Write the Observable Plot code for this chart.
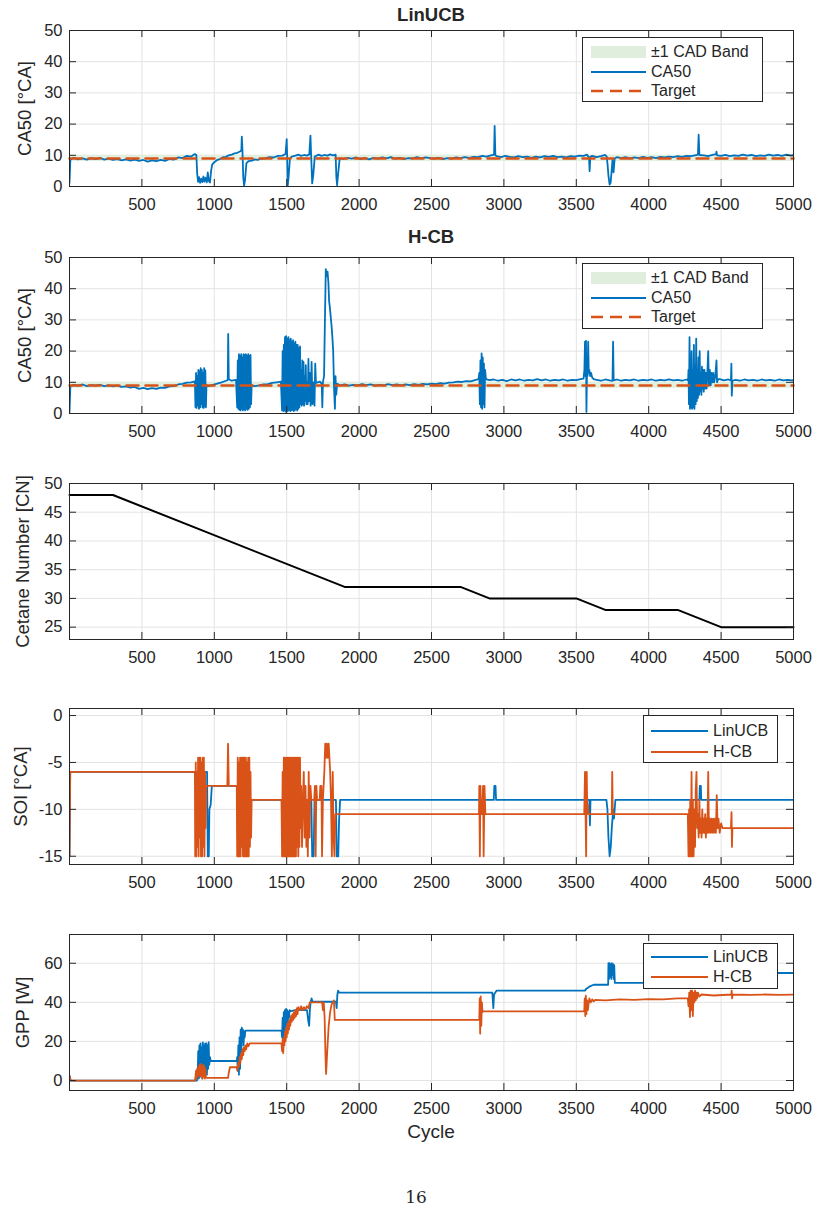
<!DOCTYPE html>
<html>
<head>
<meta charset="utf-8">
<script src="https://cdn.jsdelivr.net/npm/d3@7"></script>
<script src="https://cdn.jsdelivr.net/npm/@observablehq/plot@0.6"></script>
<style>
  body { margin: 0; background: #fff; }
  #page { position: relative; width: 821px; height: 1210px; overflow: hidden;
          font-family: "Liberation Sans", Arial, Helvetica, sans-serif; color: #262626; }
  .txt { position: absolute; white-space: nowrap; transform: translate(-50%, -50%); }
  .title { font-weight: bold; font-size: 18.5px; }
  .legend { position: absolute; border: 1px solid #262626; background: #fff; box-sizing: border-box; }
  .legend span { position: absolute; font-size: 16px; white-space: nowrap; transform: translateY(-50%); }
  .legend svg { position: absolute; overflow: visible; }
</style>
</head>
<body>
<div id="page"></div>
<script>
// ---- axis ticks -------------------------------------------------------
const cycleTicks = [500, 1000, 1500, 2000, 2500, 3000, 3500, 4000, 4500, 5000];
const ca50Ticks = [0, 10, 20, 30, 40, 50];
const cetaneTicks = [25, 30, 35, 40, 45, 50];
const soiTicks = [-15, -10, -5, 0];
const gppTicks = [0, 20, 40, 60];

// ---- combustion phasing target (°CA) and tolerance band ---------------
const ca50Target = 9;
const cadBand = 1;
const targetLine = [[0, ca50Target], [5000, ca50Target]];

// ---- CA50 [°CA], LinUCB controller: [cycle, value] --------------------
const ca50LinUCB = [
[0,1.2],[6,8.6],[30,9.2],[60,8.7],[90,9.0],[120,8.6],[150,9.1],[180,8.8],[210,9.2],[240,8.6],[270,8.9],[300,8.5],[330,8.8],[360,8.4],[390,8.7],[420,8.3],[450,8.6],[480,8.2],[510,8.5],[540,8.0],[570,8.4],[600,8.1],[630,8.5],[660,8.2],[690,8.8],[720,8.6],[750,9.3],[780,9.1],[810,9.8],[840,9.6],[865,10.4],[876,10.1],
[882,4.0],[888,1.5],[895,3.0],[902,1.2],[910,2.5],[918,1.4],[925,3.2],[932,1.6],[940,2.8],[948,1.3],[955,4.5],[962,1.8],[970,1.3],[978,5.0],[985,7.0],[1000,7.8],[1020,8.5],[1040,8.8],[1060,9.4],[1080,9.5],[1100,10.0],[1120,10.2],[1140,10.6],[1160,10.8],[1180,11.3],[1187,11.6],[1190,16.0],[1194,12.0],[1200,3.0],[1206,0.3],[1212,2.0],[1222,7.5],[1236,8.1],[1260,8.3],[1280,8.7],[1300,8.5],[1320,8.9],[1350,9.0],[1380,9.4],[1410,9.3],[1440,9.8],[1470,9.9],[1492,10.4],[1500,15.2],[1503,10.0],[1507,0.3],[1513,3.0],[1522,8.8],[1535,9.6],[1560,9.9],[1580,10.2],[1600,9.8],[1620,10.1],[1640,9.9],[1656,10.3],[1664,16.3],[1668,11.0],[1676,1.0],[1684,4.0],[1694,9.6],[1720,10.2],[1740,9.8],[1760,10.1],[1780,9.9],[1800,10.3],[1820,10.0],[1838,10.2],[1843,3.0],[1848,0.4],[1855,4.0],[1866,9.0],
[1890,8.8],[1920,9.2],[1950,8.9],[1980,9.3],[2010,8.8],[2040,9.1],[2070,8.7],[2100,9.2],[2130,8.9],[2160,9.3],[2190,9.0],[2220,9.4],[2250,8.9],[2280,9.2],[2310,8.8],[2340,9.1],[2370,9.0],[2400,9.4],[2430,9.0],[2460,9.3],[2490,9.1],[2520,8.9],[2550,9.2],[2580,8.8],[2610,9.1],[2640,8.9],[2670,9.3],[2700,9.1],[2730,9.4],[2760,9.2],[2790,9.5],[2820,9.4],[2850,9.8],[2880,9.6],[2910,10.0],[2932,10.2],[2936,19.4],[2941,10.0],[2950,9.7],
[2980,9.4],[3010,9.8],[3040,9.5],[3070,9.3],[3100,9.7],[3130,9.4],[3160,9.6],[3190,9.2],[3220,9.6],[3250,9.3],[3280,9.7],[3310,9.5],[3340,9.8],[3370,9.4],[3400,9.6],[3430,9.3],[3460,9.7],[3490,9.6],[3520,9.9],[3550,9.8],[3575,10.2],[3588,9.2],[3592,4.9],[3597,9.5],[3610,9.8],[3640,9.4],[3670,9.7],[3700,10.1],[3710,9.6],[3716,7.0],[3722,3.5],[3730,0.6],[3737,1.2],[3744,5.0],[3750,8.5],[3757,4.5],[3765,9.0],[3780,9.4],
[3810,9.1],[3840,9.4],[3870,9.0],[3900,9.3],[3930,9.1],[3960,9.5],[3990,9.2],[4020,9.4],[4050,9.1],[4080,9.5],[4110,9.3],[4140,9.6],[4170,9.4],[4200,9.7],[4230,9.5],[4260,9.8],[4290,9.7],[4320,10.0],[4340,10.2],[4345,16.6],[4350,10.1],[4380,10.0],[4410,9.7],[4440,10.1],[4465,10.4],[4468,11.2],[4472,10.0],[4500,9.8],[4530,10.1],[4560,9.7],[4590,10.0],[4620,9.8],[4650,10.2],[4680,9.9],[4710,10.1],[4740,9.7],[4770,10.0],[4800,9.8],[4830,10.2],[4860,9.9],[4890,10.1],[4920,9.8],[4950,10.2],[4980,9.9],[5000,10.0]
];

// ---- CA50 [°CA], H-CB controller: [cycle, value] ----------------------
const ca50HCB = [
[0,0.4],[6,8.8],[30,9.2],[60,8.9],[90,9.3],[120,8.8],[150,9.1],[180,8.9],[210,9.2],[240,8.8],[270,9.0],[300,8.7],[330,8.9],[360,8.5],[390,8.7],[420,8.3],[450,8.5],[480,7.9],[510,8.2],[540,7.8],[570,8.1],[600,7.9],[630,8.3],[660,8.2],[690,8.7],[720,8.8],[750,9.3],[780,9.5],[810,9.9],[840,10.0],[866,10.3],
[870,2.0],[874,13.0],[878,1.8],[882,12.0],[886,2.5],[890,14.0],[894,1.5],[898,13.5],[902,2.0],[906,14.5],[910,3.0],[914,14.0],[918,2.0],[922,13.0],[926,1.8],[930,14.5],[934,2.2],[938,13.8],[942,2.0],[946,9.0],[960,8.8],[990,9.2],[1020,9.6],[1050,10.0],[1080,10.5],[1093,10.7],[1096,25.5],[1100,11.0],[1120,10.5],[1150,10.8],
[1158,2.0],[1162,17.0],[1166,1.5],[1170,19.0],[1174,1.2],[1178,18.5],[1182,1.0],[1186,19.0],[1190,1.5],[1194,18.0],[1198,1.0],[1202,19.0],[1206,1.3],[1210,18.8],[1214,1.0],[1218,19.0],[1222,1.5],[1226,18.5],[1230,1.2],[1234,19.0],[1238,1.5],[1242,18.5],[1246,2.0],[1250,18.8],[1254,3.0],[1258,9.0],[1280,8.8],[1310,9.0],[1340,9.3],[1370,9.4],[1400,9.8],[1430,10.0],[1460,10.2],
[1468,1.0],[1472,20.0],[1476,0.8],[1480,22.0],[1484,1.0],[1488,24.5],[1492,0.6],[1496,24.8],[1500,1.0],[1504,24.0],[1508,0.8],[1512,24.5],[1516,1.2],[1520,23.5],[1524,0.8],[1528,24.0],[1532,1.0],[1536,23.0],[1540,1.2],[1544,23.5],[1548,0.8],[1552,22.5],[1556,1.0],[1560,23.0],[1564,1.5],[1568,22.0],[1572,1.0],[1576,22.0],[1580,1.5],[1584,21.0],[1588,2.0],[1592,21.5],[1596,3.0],[1600,14.0],[1604,2.5],[1608,17.0],[1612,3.0],[1616,16.5],[1620,2.5],[1624,12.0],[1628,4.0],[1632,15.5],[1636,3.0],[1640,10.0],[1645,3.0],[1650,17.5],[1655,4.0],[1660,13.0],[1665,2.5],[1672,16.5],[1678,3.0],[1685,10.0],[1692,2.5],[1697,16.0],[1702,9.8],[1730,10.2],[1742,9.5],[1746,2.0],[1750,10.0],[1758,12.0],[1764,30.0],[1770,46.3],[1776,44.0],[1782,45.5],[1788,42.0],[1793,36.0],[1798,34.0],[1804,31.0],[1810,28.0],[1816,24.0],[1821,20.0],[1827,8.0],[1833,1.5],[1837,12.0],[1842,6.0],[1848,9.5],
[1870,9.0],[1900,9.3],[1930,8.9],[1960,9.2],[1990,9.0],[2020,9.4],[2050,9.1],[2080,9.3],[2110,8.9],[2140,9.2],[2170,9.0],[2200,9.4],[2230,9.1],[2260,9.3],[2290,9.0],[2320,9.3],[2350,9.1],[2380,9.4],[2410,9.2],[2440,9.5],[2470,9.3],[2500,9.6],[2530,9.4],[2560,9.7],[2590,9.6],[2620,9.9],[2650,10.0],[2680,10.2],[2710,10.1],[2740,10.4],[2770,10.3],[2800,10.7],[2825,11.0],
[2830,13.0],[2834,3.0],[2838,17.0],[2842,2.0],[2846,19.3],[2850,1.5],[2854,18.0],[2858,3.0],[2862,16.0],[2866,2.0],[2870,14.0],[2876,11.0],[2900,10.7],[2930,10.9],[2960,10.5],[2990,10.8],[3020,10.4],[3050,10.9],[3080,10.6],[3110,10.9],[3140,10.5],[3170,10.8],[3200,10.6],[3230,11.0],[3260,10.6],[3290,10.9],[3320,10.5],[3350,10.8],[3380,10.6],[3410,10.9],[3440,10.5],[3470,10.8],[3500,10.7],[3530,11.0],[3550,11.2],
[3556,14.0],[3560,23.0],[3563,12.0],[3567,23.3],[3570,0.5],[3574,14.0],[3578,12.0],[3582,23.0],[3586,13.0],[3590,14.0],[3596,12.0],[3602,13.0],[3610,11.5],[3620,11.0],[3640,10.8],[3670,10.5],[3700,10.9],[3730,10.6],[3750,10.5],[3754,23.0],[3758,10.6],[3780,10.9],[3810,10.5],[3840,10.8],[3870,10.6],[3900,10.9],[3930,10.5],[3960,10.8],[3990,10.6],[4020,10.9],[4050,10.5],[4080,10.8],[4110,10.6],[4140,10.9],[4170,10.6],[4200,10.8],[4230,10.5],[4260,10.9],[4272,10.6],
[4275,14.0],[4278,3.0],[4282,24.5],[4285,1.5],[4289,16.0],[4292,2.0],[4296,20.0],[4300,1.5],[4304,14.0],[4308,2.0],[4312,22.0],[4316,1.5],[4320,15.0],[4324,3.0],[4328,24.0],[4332,4.0],[4336,14.0],[4340,5.0],[4344,18.0],[4348,6.0],[4352,20.0],[4356,7.0],[4360,13.0],[4364,6.0],[4368,15.0],[4372,8.0],[4376,14.0],[4380,7.0],[4385,14.0],[4390,8.0],[4395,13.0],[4400,8.0],[4406,14.0],[4411,20.0],[4416,9.0],[4422,14.0],[4428,9.0],[4434,13.0],[4440,10.0],[4446,13.0],[4452,10.0],[4460,12.0],[4468,17.0],[4472,10.0],[4480,11.0],
[4490,11.0],[4520,10.6],[4550,10.9],[4568,10.6],[4571,16.0],[4574,5.7],[4578,10.5],[4600,10.8],[4630,10.5],[4660,10.9],[4690,10.6],[4720,10.8],[4750,10.5],[4780,10.9],[4810,10.6],[4840,10.8],[4870,10.5],[4900,10.9],[4930,10.6],[4960,10.8],[4990,10.6],[5000,10.7]
];

// ---- fuel cetane number schedule [cycle, CN] -------------------------
const cetane = [[0,48],[300,48],[1900,32],[2700,32],[2900,30],[3500,30],[3700,28],[4200,28],[4500,25],[5000,25]];

// ---- start of injection [°CA] ----------------------------------------
const soiLinUCB = [
[0,-15],[5,-6],[950,-6],[955,-15],[962,-15],[966,-10],[975,-9.5],[983,-7.5],[1200,-7.5],[1205,-9],[1670,-9],[1676,-15],[1686,-15],[1692,-9],[1840,-9],[1846,-15],[1856,-15],[1862,-11],[1869,-9],[2930,-9],[2934,-7.5],[2942,-7.5],[2946,-9],[3590,-9],[3594,-11.7],[3598,-9],[3708,-9],[3715,-10],[3722,-13],[3730,-15],[3738,-14],[3745,-12],[3755,-10],[3760,-11],[3770,-9],[4350,-9],[4353,-7.5],[4360,-7.5],[4363,-9],[5000,-9]
];
const soiHCB = [
[0,-15],[5,-6],[866,-6],
[868,-15],[872,-5],[876,-15],[880,-6],[884,-14],[888,-4.5],[892,-15],[896,-4.5],[900,-13],[904,-4.5],[908,-15],[912,-5],[916,-15],[920,-4.5],[924,-14],[928,-4.5],[932,-15],[936,-6],[940,-12],[944,-7.5],[1090,-7.5],[1095,-3],[1100,-7.5],[1155,-7.5],
[1158,-15],[1162,-4.5],[1166,-15],[1170,-5],[1174,-15],[1178,-4.5],[1182,-15],[1186,-4.5],[1190,-14],[1194,-4.5],[1198,-15],[1202,-4.5],[1206,-15],[1210,-4.5],[1214,-15],[1218,-4.5],[1222,-15],[1226,-5],[1230,-15],[1234,-4.5],[1238,-15],[1242,-4.5],[1246,-14],[1250,-6],[1254,-13],[1258,-9],[1464,-9],
[1468,-15],[1472,-6],[1476,-15],[1480,-4.5],[1484,-15],[1488,-4.5],[1492,-15],[1496,-4.5],[1500,-15],[1504,-4.5],[1508,-15],[1512,-4.5],[1516,-15],[1520,-4.5],[1524,-15],[1528,-4.5],[1532,-15],[1536,-4.5],[1540,-15],[1544,-4.5],[1548,-15],[1552,-4.5],[1556,-15],[1560,-4.5],[1564,-15],[1568,-4.5],[1572,-14],[1576,-4.5],[1580,-15],[1584,-4.5],[1588,-14],[1592,-4.5],[1596,-12],[1600,-7.5],[1606,-14],[1612,-9],[1618,-6],[1624,-13],[1630,-7.5],[1636,-14],[1640,-9],
[1646,-15],[1652,-6],[1658,-13],[1664,-7.5],[1670,-9],[1690,-9],[1695,-7.5],[1700,-15],[1705,-7.5],[1710,-9],[1728,-9],[1732,-7.5],[1740,-7.5],[1744,-15],[1750,-9],[1760,-6],[1766,-3],[1772,-4.5],[1778,-3],[1784,-4.5],[1790,-3],[1795,-4.5],[1800,-6],[1806,-9],[1812,-15],[1818,-6],[1824,-13],[1830,-15],[1836,-10.5],
[2828,-10.5],[2830,-7.5],[2834,-15],[2838,-7.5],[2842,-10.5],[2850,-10.5],[2856,-7.5],[2860,-15],[2866,-7.5],[2872,-10.5],
[3555,-10.5],[3560,-6],[3564,-10.5],[3568,-15],[3572,-6],[3576,-10.5],[3580,-9.5],[3585,-10.5],[3745,-10.5],[3748,-6],[3752,-10.5],
[4270,-10.5],[4275,-15],[4279,-10],[4283,-15],[4287,-9],[4291,-15],[4296,-6],[4300,-15],[4305,-9],[4310,-15],[4315,-10],[4320,-14],[4325,-8],[4330,-6],[4335,-12],[4340,-10.5],[4345,-13],[4350,-9],[4355,-12.5],[4360,-11],[4365,-13],[4370,-10],[4375,-12.5],[4380,-11],[4385,-12.5],[4390,-10.5],[4395,-13],[4400,-11],[4405,-12.5],[4411,-6],[4416,-12.5],[4422,-11],[4428,-12.5],[4434,-11],[4440,-12.5],[4446,-11],[4452,-12.5],[4458,-11],[4464,-12.5],[4470,-8.5],[4476,-12],[4482,-11],[4490,-12.5],[4500,-11.5],[4510,-12],
[4568,-12],[4572,-10.3],[4575,-14],[4578,-12],[5000,-12]
];

// ---- gross power output [W] ------------------------------------------
const gppLinUCB = [
[0,2.5],[8,0],[880,0],
[885,3],[889,15],[893,1],[897,18],[901,2],[905,19],[909,3],[913,17],[917,1],[921,19.5],[925,4],[929,18],[933,2],[937,19],[941,5],[945,19],[949,3],[953,18],[957,6],[961,19.6],[965,8],[970,12],[975,10],[1155,10],
[1158,12],[1162,5],[1166,18],[1170,3],[1174,22],[1178,6],[1182,26],[1186,12],[1190,27],[1194,20],[1198,26],[1202,18],[1206,25],[1210,22],[1214,25.5],[1464,25.5],
[1468,22],[1472,32],[1476,20],[1480,35],[1484,22],[1488,36],[1492,25],[1496,36.6],[1500,28],[1504,36],[1508,30],[1512,35],[1516,32],[1520,36],[1530,35.5],[1560,36],[1600,36],[1640,36],[1645,33],[1650,30],[1655,28],[1660,36],[1665,40],[1672,42],[1678,40.3],[1840,40.3],
[1845,37],[1850,44],[1855,46],[1862,45],[2920,45],[2927,37],[2932,44],[2950,46],[3560,46],[3570,47],[3590,48],[3620,49],[3720,49],
[3722,60],[3726,52],[3730,60],[3734,53],[3738,59.5],[3742,52],[3746,60],[3750,54],[3754,59.5],[3758,52],[3762,59],[3766,50],[4550,50],[4556,55],[5000,55]
];
const gppHCB = [
[0,2.5],[8,0],[866,0],
[870,2],[874,5],[878,1],[882,6],[886,2],[890,7],[894,3],[898,8],[902,2],[906,8.5],[910,3],[914,7],[918,1],[922,8],[926,2],[930,7.5],[934,1],[938,6],[942,1.5],[948,1.4],[1095,1.4],[1100,4],[1108,6.8],[1155,6.8],
[1160,5],[1165,9],[1170,7],[1175,12],[1180,9],[1185,14],[1190,11],[1195,16],[1200,13],[1205,17],[1210,15],[1215,18],[1220,16],[1228,19],[1235,17.5],[1245,19],[1464,19],
[1468,15],[1472,21],[1476,14],[1480,22],[1484,18],[1488,25],[1492,20],[1496,27],[1500,22],[1504,29],[1508,24],[1512,30],[1516,26],[1520,31],[1525,28],[1530,33],[1535,30],[1540,34],[1545,31],[1550,35],[1555,32],[1560,36],[1565,33],[1570,37],[1575,34],[1580,37.5],[1590,36],[1600,38],[1610,36],[1620,37.5],[1630,36.5],[1640,38],[1650,37],[1660,40],[1700,40],[1745,40],[1750,36],[1756,40],[1762,32],[1768,12],[1772,3.4],[1780,15],[1790,28],[1800,35],[1810,39],[1820,40],[1826,41],[1832,31],
[2830,31],[2833,42],[2836,24],[2840,43],[2844,28],[2848,40],[2852,35],[2860,35.4],[3555,35.4],[3558,42],[3562,33],[3566,43.4],[3570,34],[3575,41],[3580,36],[3590,42],[3600,40],[3610,41.5],[3620,40.5],[3630,41.3],[3700,41],[3800,41.5],[3900,41.3],[4000,41.6],[4100,41.5],[4200,42],[4270,42],
[4275,38],[4280,45],[4285,32.5],[4290,46],[4295,36],[4300,46],[4305,33],[4310,45],[4315,40],[4320,46],[4325,41],[4330,45],[4335,42],[4340,45],[4350,43],[4365,44],[4450,43.5],[4570,44],[4573,46],[4576,42],[4580,44],[4700,43.8],[4800,44],[4900,43.8],[5000,44]
];

// ---- layout and styling ------------------------------------------------
const BLUE = "#0072BD", ORANGE = "#D95319", INK = "#262626", GRID = "#e3e3e3", BAND = "#dfeedd";
const W = 821, ML = 69, MR = 28, MT = 20, MB = 40, PH = 156, PW = W - ML - MR;
const FONT = '"Liberation Sans", Arial, Helvetica, sans-serif';
const page = document.getElementById("page");
const fmt = d => String(d);
const X = d => d[0], Y = d => d[1];

function panel(top, yDomain, yTicks, ylabel, labelX, dataMarks) {
  const svg = Plot.plot({
    width: W, height: PH + MT + MB,
    marginLeft: ML, marginRight: MR, marginTop: MT, marginBottom: MB,
    style: {fontFamily: FONT, fontSize: "16.5px", color: INK, background: "transparent", overflow: "visible"},
    x: {domain: [0, 5000]},
    y: {domain: yDomain},
    marks: [
      Plot.gridX(cycleTicks, {stroke: GRID, strokeOpacity: 1}),
      Plot.gridY(yTicks, {stroke: GRID, strokeOpacity: 1}),
      ...dataMarks,
      Plot.tickX(cycleTicks, {x: d => d, insetTop: PH - 7, stroke: INK}),
      Plot.tickX(cycleTicks, {x: d => d, insetBottom: PH - 7, stroke: INK}),
      Plot.tickY(yTicks, {y: d => d, insetRight: PW - 7, stroke: INK}),
      Plot.tickY(yTicks, {y: d => d, insetLeft: PW - 7, stroke: INK}),
      Plot.axisX(cycleTicks, {tickSize: 0, tickPadding: 12, tickFormat: fmt, label: null}),
      Plot.axisY(yTicks, {tickSize: 0, tickPadding: 7, tickFormat: fmt, label: null}),
      Plot.frame({stroke: INK, strokeWidth: 1}),
      Plot.text([ylabel], {text: d => d, frameAnchor: "left", dx: labelX - ML, rotate: -90,
                           textAnchor: "middle", lineAnchor: "middle", fontSize: 18.5, fill: INK})
    ]
  });
  const holder = document.createElement("div");
  holder.style.cssText = `position:absolute;left:0;top:${top - MT}px;`;
  holder.appendChild(svg);
  page.appendChild(holder);
}

function label(text, cls, x, y, extra = "") {
  const el = document.createElement("div");
  el.className = "txt " + cls;
  el.style.cssText = `left:${x}px;top:${y}px;${extra}`;
  el.textContent = text;
  page.appendChild(el);
}

function legend(left, top, w, h, sx0, sx1, tx, rows) {
  const box = document.createElement("div");
  box.className = "legend";
  box.style.cssText = `left:${left}px;top:${top}px;width:${w}px;height:${h}px;`;
  for (const r of rows) {
    const s = document.createElementNS("http://www.w3.org/2000/svg", "svg");
    s.setAttribute("width", sx1 - sx0);
    s.setAttribute("height", 14);
    s.style.left = sx0 + "px";
    s.style.top = (r.y - 7) + "px";
    if (r.kind === "band") {
      s.innerHTML = `<rect x="0" y="1" width="${sx1 - sx0}" height="12" fill="${BAND}"/>`;
    } else {
      const dash = r.kind === "dash" ? ` stroke-dasharray="12,7"` : "";
      const sw = r.kind === "dash" ? 2.5 : 2;
      s.innerHTML = `<line x1="0" y1="7" x2="${sx1 - sx0}" y2="7" stroke="${r.color}" stroke-width="${sw}"${dash}/>`;
    }
    box.appendChild(s);
    const t = document.createElement("span");
    t.style.left = tx + "px";
    t.style.top = r.y + "px";
    t.textContent = r.text;
    box.appendChild(t);
  }
  page.appendChild(box);
}

// ---- CA50 panels ------------------------------------------------------
function ca50Marks(series) {
  return [
    Plot.areaY(targetLine, {x: X, y1: d => d[1] - cadBand, y2: d => d[1] + cadBand, fill: BAND, fillOpacity: 0.9}),
    Plot.line(series, {x: X, y: Y, stroke: BLUE, strokeWidth: 1.8, clip: true}),
    Plot.line(targetLine, {x: X, y: Y, stroke: ORANGE, strokeWidth: 2.5, strokeDasharray: "12,7"})
  ];
}
panel(30, [0, 50], ca50Ticks, "CA50 [°CA]", 25, ca50Marks(ca50LinUCB));
panel(257, [0, 50], ca50Ticks, "CA50 [°CA]", 25, ca50Marks(ca50HCB));

// ---- cetane number ----------------------------------------------------
panel(483, [22.85, 50], cetaneTicks, "Cetane Number [CN]", 23, [
  Plot.line(cetane, {x: X, y: Y, stroke: "#000", strokeWidth: 2})
]);

// ---- SOI --------------------------------------------------------------
panel(708, [-15.88, 0.75], soiTicks, "SOI [°CA]", 21, [
  Plot.line(soiLinUCB, {x: X, y: Y, stroke: BLUE, strokeWidth: 1.8, clip: true}),
  Plot.line(soiHCB, {x: X, y: Y, stroke: ORANGE, strokeWidth: 1.8, clip: true})
]);

// ---- GPP --------------------------------------------------------------
panel(934, [-5.1, 74.7], gppTicks, "GPP [W]", 23, [
  Plot.line(gppLinUCB, {x: X, y: Y, stroke: BLUE, strokeWidth: 1.8, clip: true}),
  Plot.line(gppHCB, {x: X, y: Y, stroke: ORANGE, strokeWidth: 1.8, clip: true})
]);

// ---- titles, legends and captions -------------------------------------
label("LinUCB", "title", 431, 15);
label("H-CB", "title", 431, 237);

const ca50Rows = [
  {kind: "band", text: "±1 CAD Band"},
  {kind: "line", color: BLUE, text: "CA50"},
  {kind: "dash", color: ORANGE, text: "Target"}
];
legend(582, 37, 181, 65, 8, 63, 68, ca50Rows.map((r, i) => ({...r, y: [13.5, 33.5, 53][i]})));
legend(582, 263, 181, 66, 8, 63, 68, ca50Rows.map((r, i) => ({...r, y: [13.5, 33.5, 53][i]})));

const ctrlRows = [
  {kind: "line", color: BLUE, text: "LinUCB"},
  {kind: "line", color: ORANGE, text: "H-CB"}
];
legend(643, 715, 135, 48, 7, 64, 69, ctrlRows.map((r, i) => ({...r, y: [15, 36][i]})));
legend(643, 943, 135, 46, 7, 64, 69, ctrlRows.map((r, i) => ({...r, y: [13, 33][i]})));

label("Cycle", "", 431, 1132, "font-size:19px;");
label("16", "", 416, 1197, 'font-size:17px;font-family:"DejaVu Serif","Liberation Serif",serif;');
</script>
</body>
</html>
